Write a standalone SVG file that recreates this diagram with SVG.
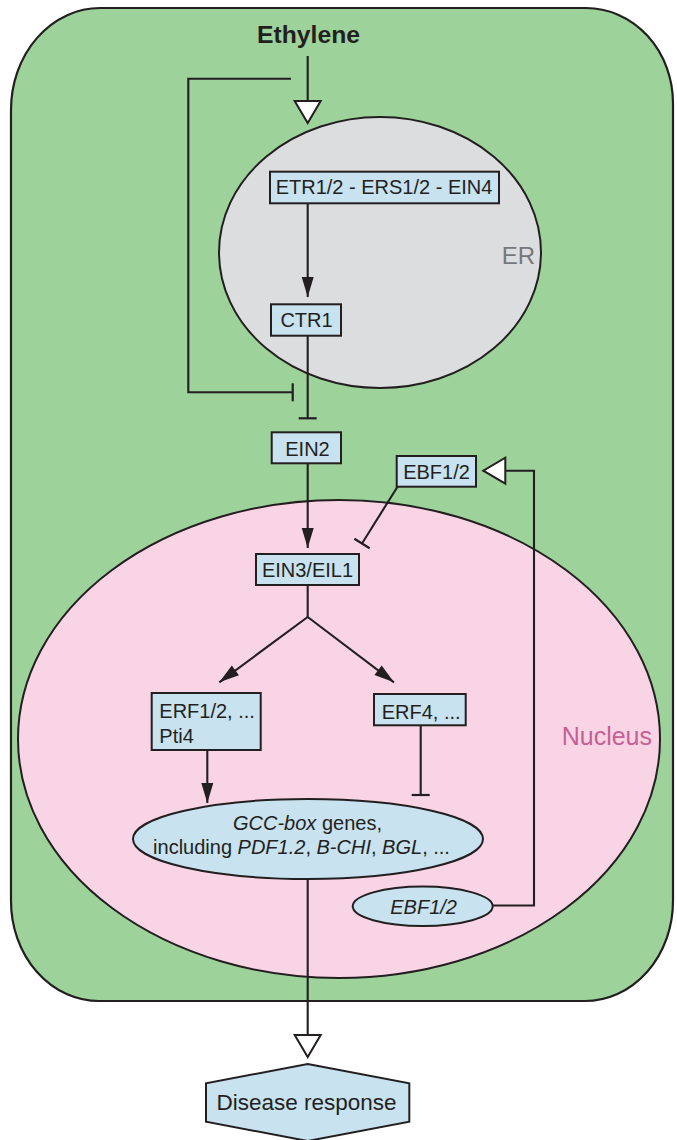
<svg xmlns="http://www.w3.org/2000/svg" width="677" height="1140" viewBox="0 0 677 1140">
<style>
.ln{fill:none;stroke:#231f20;stroke-width:2.1}
.box{fill:#c8e2f0;stroke:#231f20;stroke-width:2}
.t{font-family:"Liberation Sans",Arial,sans-serif;font-size:20px;fill:#231f20}
.c{text-anchor:middle}
.i{font-style:italic}
</style>
<defs>
<marker id="arr" markerUnits="userSpaceOnUse" markerWidth="22" markerHeight="14" refX="20" refY="6" orient="auto" overflow="visible">
<path d="M0,0 L20,6 L0,12 z" fill="#231f20"/>
</marker>
<marker id="open" markerUnits="userSpaceOnUse" markerWidth="26" markerHeight="30" refX="23" refY="14" orient="auto" overflow="visible">
<path d="M1,1 L23,14 L1,27 z" fill="#ffffff" stroke="#231f20" stroke-width="2"/>
</marker>
<marker id="tee" markerUnits="userSpaceOnUse" markerWidth="4" markerHeight="20" refX="1" refY="9" orient="auto" overflow="visible">
<path d="M1,0 L1,18" stroke="#231f20" stroke-width="2.2"/>
</marker>
</defs>

<g id="cell">
<path d="M100,8 H586 A87,95 0 0 1 673,103 V901 A88,100 0 0 1 585,1001 H99 A88,100 0 0 1 11,901 V110 A89,102 0 0 1 100,8 Z" fill="#9dd29b" stroke="#231f20" stroke-width="2.2"/>
</g>
<g id="er">
<ellipse cx="380" cy="252.5" rx="161" ry="135.5" fill="#dcdddf" stroke="#231f20" stroke-width="2"/>
<text class="t" x="501.7" y="264" style="font-size:24px;fill:#77777a">ER</text>
</g>
<g id="nucleus">
<ellipse cx="339" cy="739" rx="321" ry="239" fill="#f9d4e5" stroke="#231f20" stroke-width="2"/>
<text class="t" x="561.7" y="745" style="font-size:25px;fill:#c65f93">Nucleus</text>
</g>

<g id="connectors">
<path class="ln" d="M307.7,56 V123" marker-end="url(#open)"/>
<path class="ln" d="M291,78.7 H188.3 V392.3 H292.7" marker-end="url(#tee)"/>
<path class="ln" d="M307.7,203.3 V297" marker-end="url(#arr)"/>
<path class="ln" d="M307.7,335.7 V418.3" marker-end="url(#tee)"/>
<path class="ln" d="M307.7,463.3 V548" marker-end="url(#arr)"/>
<path class="ln" d="M397.5,486.7 L362,543.5" marker-end="url(#tee)"/>
<path class="ln" d="M492.7,905.5 H534 V470.7 H483.3" marker-end="url(#open)"/>
<path class="ln" d="M307.7,585 V617"/>
<path class="ln" d="M307.7,617 L219.3,682.3" marker-end="url(#arr)"/>
<path class="ln" d="M307.7,617 L394,682.3" marker-end="url(#arr)"/>
<path class="ln" d="M207.3,750 V803" marker-end="url(#arr)"/>
<path class="ln" d="M420.7,725.3 V795" marker-end="url(#tee)"/>
<path class="ln" d="M307.7,879 V1057" marker-end="url(#open)"/>
</g>

<g id="ethylene">
<text class="t c" x="308.5" y="42.7" style="font-size:23px;font-weight:bold" textLength="103" lengthAdjust="spacingAndGlyphs">Ethylene</text>
</g>
<g id="etr">
<rect class="box" x="270" y="171.7" width="229" height="31.6"/>
<text class="t c" x="384" y="194.3">ETR1/2 - ERS1/2 - EIN4</text>
</g>
<g id="ctr1">
<rect class="box" x="271" y="304.3" width="70" height="31.4"/>
<text class="t c" x="306.5" y="327">CTR1</text>
</g>
<g id="ein2">
<rect class="box" x="271.7" y="432.3" width="69.3" height="31"/>
<text class="t c" x="307.5" y="455.7">EIN2</text>
</g>
<g id="ebf-protein">
<rect class="box" x="396.7" y="456" width="79.3" height="30.7"/>
<text class="t c" x="436.5" y="479">EBF1/2</text>
</g>
<g id="ein3">
<rect class="box" x="256" y="554" width="103" height="31"/>
<text class="t c" x="307.5" y="576.7">EIN3/EIL1</text>
</g>
<g id="erf12">
<rect class="box" x="151.7" y="693" width="109" height="57"/>
<text class="t" x="159.3" y="718.3">ERF1/2, ...</text>
<text class="t" x="159.3" y="742.7">Pti4</text>
</g>
<g id="erf4">
<rect class="box" x="374" y="694" width="91.7" height="31.3"/>
<text class="t" x="381.7" y="719">ERF4, ...</text>
</g>
<g id="gcc">
<ellipse class="box" cx="308" cy="839" rx="175" ry="40"/>
<text class="t c" x="307.5" y="830"><tspan class="i">GCC-box</tspan> genes,</text>
<text class="t c" x="301.5" y="854">including <tspan class="i">PDF1.2</tspan>, <tspan class="i">B-CHI</tspan>, <tspan class="i">BGL</tspan>, ...</text>
</g>
<g id="ebf-gene">
<ellipse class="box" cx="422.7" cy="906.3" rx="70" ry="19.7"/>
<text class="t c i" x="423.6" y="914">EBF1/2</text>
</g>
<g id="disease">
<polygon class="box" points="307.7,1064 409.3,1083.3 409.3,1121.7 307.7,1141 206,1121.7 206,1083.3"/>
<text class="t c" x="306.5" y="1110" style="font-size:22.5px">Disease response</text>
</g>
</svg>
